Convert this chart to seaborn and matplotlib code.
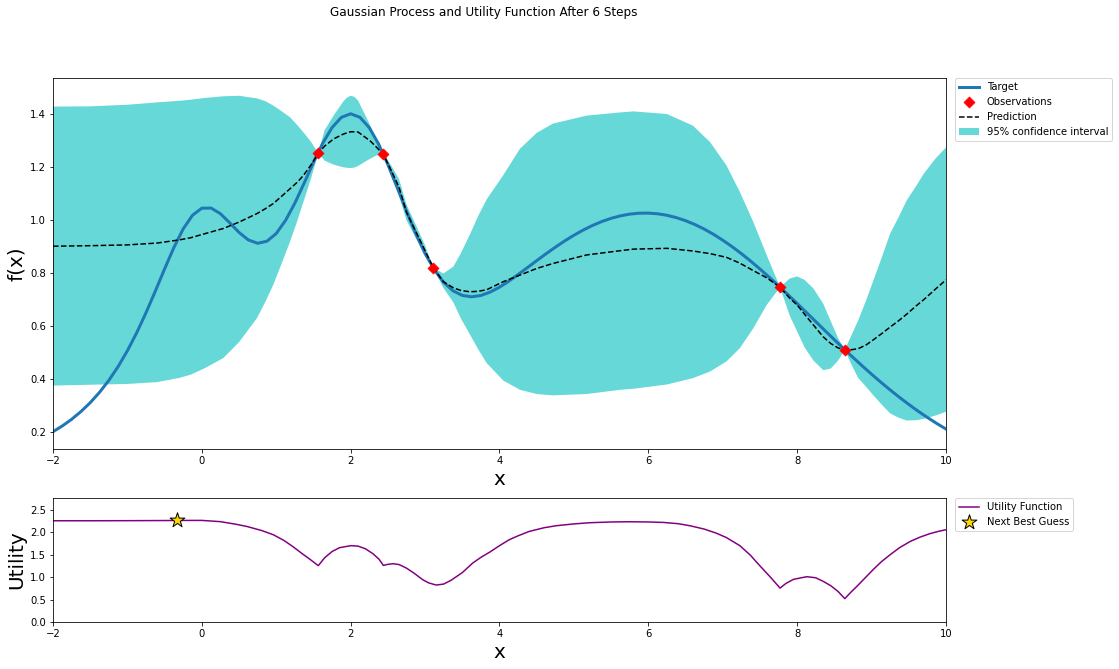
import matplotlib
matplotlib.use("Agg")
import matplotlib.pyplot as plt
import seaborn as sns

# ---- data ----
target_x = [-2.0, -1.875, -1.75, -1.625, -1.5, -1.375, -1.25, -1.125, -1.0, -0.875, -0.75, -0.625,
            -0.5, -0.375, -0.25, -0.125, 0.0, 0.125, 0.25, 0.375, 0.5, 0.625, 0.75, 0.875,
            1.0, 1.125, 1.25, 1.375, 1.5, 1.625, 1.75, 1.875, 2.0, 2.125, 2.25, 2.375,
            2.5, 2.625, 2.75, 2.875, 3.0, 3.125, 3.25, 3.375, 3.5, 3.625, 3.75, 3.875,
            4.0, 4.125, 4.25, 4.375, 4.5, 4.625, 4.75, 4.875, 5.0, 5.125, 5.25, 5.375,
            5.5, 5.625, 5.75, 5.875, 6.0, 6.125, 6.25, 6.375, 6.5, 6.625, 6.75, 6.875,
            7.0, 7.125, 7.25, 7.375, 7.5, 7.625, 7.75, 7.875, 8.0, 8.125, 8.25, 8.375,
            8.5, 8.625, 8.75, 8.875, 9.0, 9.125, 9.25, 9.375, 9.5, 9.625, 9.75, 9.875, 10.0]
target_y = [0.2017, 0.2235, 0.2486, 0.2777, 0.3113, 0.3503, 0.3955, 0.4477, 0.5076, 0.5755, 0.651, 0.7325,
            0.8166, 0.8974, 0.9676, 1.019, 1.0456, 1.046, 1.0247, 0.9903, 0.954, 0.9257, 0.9131, 0.9208,
            0.95, 0.9994, 1.0647, 1.1405, 1.2185, 1.291, 1.3499, 1.3884, 1.4019, 1.3886, 1.3494, 1.2881,
            1.2105, 1.1235, 1.0344, 0.9496, 0.8745, 0.8126, 0.7656, 0.7338, 0.7162, 0.711, 0.716, 0.7289,
            0.7474, 0.77, 0.7952, 0.8211, 0.8475, 0.8734, 0.8982, 0.9218, 0.9434, 0.963, 0.9803, 0.9952,
            1.0073, 1.0166, 1.0232, 1.0266, 1.027, 1.0244, 1.0188, 1.01, 0.9984, 0.984, 0.9668, 0.947,
            0.9248, 0.9004, 0.874, 0.8458, 0.816, 0.7848, 0.7528, 0.7195, 0.6857, 0.6516, 0.6173, 0.583,
            0.549, 0.5154, 0.4824, 0.4501, 0.4188, 0.3885, 0.3594, 0.3314, 0.3048, 0.2794, 0.2555, 0.233, 0.2118]

obs_x = [1.565, 2.44, 3.11, 7.77, 8.64]
obs_y = [1.254, 1.249, 0.821, 0.747, 0.511]

gp_x = [-2.0, -1.5, -1.0, -0.6, -0.3, -0.15, 0.05, 0.29, 0.5, 0.74, 0.85, 0.96,
        1.07, 1.185, 1.28, 1.365, 1.47, 1.565, 1.65, 1.77, 1.9, 1.95, 2.0, 2.05,
        2.1, 2.26, 2.35, 2.44, 2.55, 2.65, 2.75, 2.88, 3.0, 3.11, 3.245, 3.38,
        3.48, 3.6, 3.72, 3.83, 4.05, 4.275, 4.5, 4.72, 5.17, 5.62, 5.8, 6.25,
        6.6, 6.83, 7.05, 7.23, 7.41, 7.59, 7.77, 7.9, 8.0, 8.1, 8.22, 8.35,
        8.45, 8.55, 8.64, 8.72, 8.82, 8.93, 9.04, 9.15, 9.25, 9.36, 9.47, 9.6,
        9.7, 9.85, 10.0]
gp_mean = [0.902, 0.904, 0.907, 0.914, 0.926, 0.934, 0.950, 0.969, 0.993, 1.025, 1.043, 1.063,
           1.09, 1.119, 1.143, 1.169, 1.21, 1.253, 1.28, 1.307, 1.325, 1.330, 1.334, 1.334,
           1.333, 1.300, 1.275, 1.248, 1.185, 1.125, 1.03, 0.955, 0.885, 0.821, 0.768, 0.745,
           0.735, 0.73, 0.732, 0.738, 0.768, 0.793, 0.818, 0.837, 0.869, 0.885, 0.891, 0.894,
           0.884, 0.874, 0.86, 0.838, 0.81, 0.783, 0.747, 0.706, 0.68, 0.645, 0.604, 0.56,
           0.535, 0.518, 0.511, 0.511, 0.515, 0.53, 0.552, 0.575, 0.597, 0.62, 0.645, 0.677,
           0.70, 0.738, 0.775]
gp_lower = [0.376, 0.379, 0.382, 0.389, 0.405, 0.417, 0.443, 0.48, 0.54, 0.63, 0.69, 0.756,
            0.835, 0.919, 0.995, 1.069, 1.16, 1.253, 1.225, 1.21, 1.2, 1.198, 1.197, 1.199,
            1.205, 1.232, 1.245, 1.248, 1.165, 1.095, 1.0, 0.93, 0.865, 0.821, 0.745, 0.69,
            0.63, 0.57, 0.51, 0.46, 0.395, 0.36, 0.344, 0.339, 0.344, 0.36, 0.364, 0.38,
            0.404, 0.429, 0.467, 0.517, 0.592, 0.68, 0.747, 0.64, 0.58, 0.52, 0.47, 0.434,
            0.44, 0.47, 0.511, 0.46, 0.405, 0.37, 0.334, 0.30, 0.271, 0.255, 0.244, 0.245,
            0.25, 0.262, 0.277]
gp_upper = [1.429, 1.430, 1.436, 1.445, 1.451, 1.455, 1.462, 1.468, 1.470, 1.46, 1.45, 1.433,
            1.412, 1.389, 1.36, 1.332, 1.295, 1.253, 1.34, 1.395, 1.448, 1.463, 1.470, 1.466,
            1.452, 1.36, 1.305, 1.248, 1.205, 1.155, 1.06, 0.98, 0.905, 0.821, 0.799, 0.825,
            0.875, 0.945, 1.02, 1.08, 1.17, 1.27, 1.33, 1.365, 1.395, 1.407, 1.411, 1.401,
            1.357, 1.295, 1.207, 1.107, 0.994, 0.869, 0.747, 0.78, 0.788, 0.775, 0.742, 0.685,
            0.62, 0.555, 0.511, 0.56, 0.622, 0.70, 0.785, 0.87, 0.95, 1.01, 1.074, 1.13,
            1.175, 1.23, 1.275]

util_x = [-2.0, -1.5, -1.0, -0.5, -0.33, 0.0, 0.25, 0.45, 0.6, 0.8, 0.96, 1.1,
          1.22, 1.35, 1.45, 1.565, 1.65, 1.75, 1.85, 2.0, 2.1, 2.2, 2.3, 2.38,
          2.44, 2.5, 2.57, 2.65, 2.75, 2.85, 2.97, 3.05, 3.15, 3.25, 3.35, 3.5,
          3.64, 3.75, 3.87, 4.0, 4.13, 4.25, 4.4, 4.6, 4.76, 5.0, 5.21, 5.5,
          5.75, 6.0, 6.2, 6.4, 6.56, 6.75, 6.91, 7.05, 7.23, 7.37, 7.5, 7.64,
          7.77, 7.85, 7.95, 8.13, 8.25, 8.35, 8.45, 8.55, 8.64, 8.72, 8.8, 8.9,
          9.02, 9.13, 9.25, 9.38, 9.52, 9.65, 9.78, 9.9, 10.0]
util_y = [2.255, 2.255, 2.257, 2.26, 2.262, 2.263, 2.235, 2.18, 2.13, 2.04, 1.944, 1.82,
          1.684, 1.52, 1.40, 1.255, 1.43, 1.57, 1.655, 1.70, 1.69, 1.63, 1.52, 1.40,
          1.26, 1.285, 1.298, 1.28, 1.20, 1.09, 0.94, 0.87, 0.823, 0.845, 0.93, 1.10,
          1.313, 1.44, 1.558, 1.70, 1.832, 1.92, 2.018, 2.10, 2.144, 2.185, 2.211, 2.228,
          2.233, 2.228, 2.218, 2.19, 2.144, 2.07, 1.981, 1.88, 1.70, 1.49, 1.25, 1.0,
          0.755, 0.86, 0.95, 1.009, 0.985, 0.905, 0.81, 0.68, 0.52, 0.66, 0.79, 0.96,
          1.165, 1.34, 1.50, 1.66, 1.795, 1.89, 1.966, 2.02, 2.055]

next_x = [-0.33]
next_y = [2.262]

title = "Gaussian Process and Utility Function After 6 Steps"

# ---- figure ----
W, H = 1119, 669
fig = plt.figure(figsize=(W / 72, H / 72), dpi=72)
ax = fig.add_axes([53 / W, (H - 449) / H, 893 / W, 371 / H])
acq = fig.add_axes([53 / W, (H - 622) / H, 893 / W, 124 / H])

fig.suptitle(title, x=484 / W, y=1 - 6 / H, va="top", fontsize=12)

sns.lineplot(x=target_x, y=target_y, ax=ax, linewidth=3, color="#1f77b4", label="Target")
sns.scatterplot(x=obs_x, y=obs_y, ax=ax, marker="D", s=64, color="r", edgecolor="r",
                linewidth=0.5, label="Observations", zorder=5)
sns.lineplot(x=gp_x, y=gp_mean, ax=ax, linestyle="--", color="k", linewidth=1.5, label="Prediction")
ax.fill_between(gp_x, gp_lower, gp_upper, alpha=0.6, facecolor="c", edgecolor="none",
                label="95% confidence interval")

ax.set_xlim(-2, 10)
ax.set_ylim(0.1365, 1.537)
ax.set_xticks([-2, 0, 2, 4, 6, 8, 10])
ax.set_yticks([0.2, 0.4, 0.6, 0.8, 1.0, 1.2, 1.4])
ax.set_ylabel("f(x)", fontsize=20)
ax.set_xlabel("x", fontsize=20)
ax.legend(loc=2, bbox_to_anchor=(1.01, 1), borderaxespad=0.0, fontsize=10)

sns.lineplot(x=util_x, y=util_y, ax=acq, color="purple", linewidth=1.5, label="Utility Function")
sns.scatterplot(x=next_x, y=next_y, ax=acq, marker="*", s=240, color="gold", edgecolor="k",
                linewidth=1, label="Next Best Guess", zorder=5)
acq.set_xlim(-2, 10)
acq.set_ylim(0, 2.762)
acq.set_xticks([-2, 0, 2, 4, 6, 8, 10])
acq.set_yticks([0.0, 0.5, 1.0, 1.5, 2.0, 2.5])
acq.set_ylabel("Utility", fontsize=20)
acq.set_xlabel("x", fontsize=20)
acq.legend(loc=2, bbox_to_anchor=(1.01, 1), borderaxespad=0.0, fontsize=10)

fig.savefig("out.png", dpi=72)
